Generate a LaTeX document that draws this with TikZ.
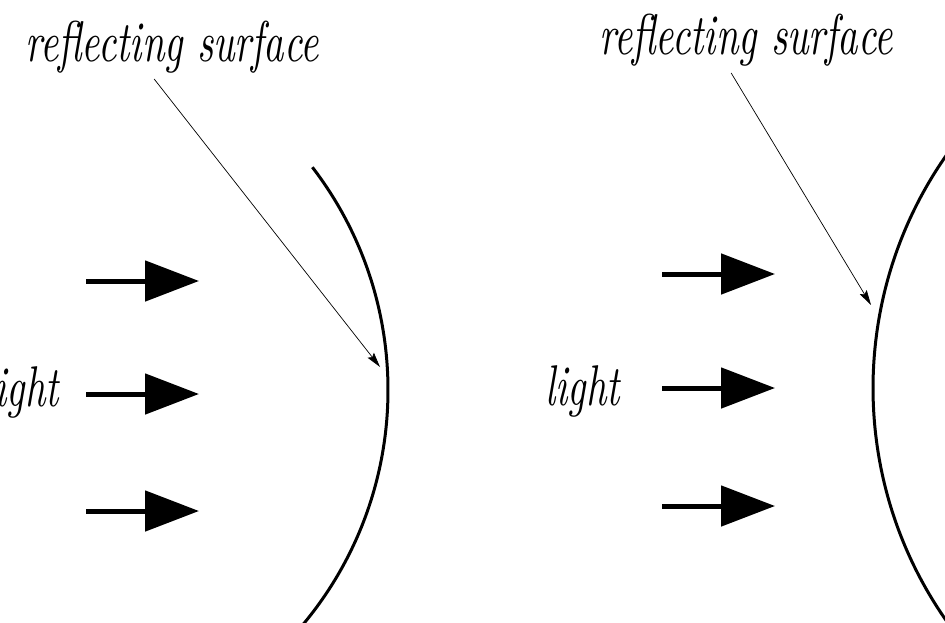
\documentclass[tikz,border=0pt]{standalone}
\usepackage{graphicx}
\usetikzlibrary{arrows.meta}

% tall, narrow italic of the labels (10pt design, stretched)
\newcommand{\narrowit}[1]{\scalebox{2.27}[3.27]{\fontsize{10}{12}\selectfont\itshape #1}}

\begin{document}
\begin{tikzpicture}[x=0.02cm, y=-0.02cm,
  lbl/.style={inner sep=0pt},
  ray/.style={line width=0.1cm, -{Triangle[length=1.08cm, width=0.8cm]}},
  pointer/.style={line width=0.4pt, -{Stealth[length=0.3cm, width=0.16cm, inset=0.05cm]}},
  mirror/.style={line width=0.06cm}]

\useasboundingbox (0,0) rectangle (945,622);
\clip (0,0) rectangle (945,622);

% ---- left panel: concave surface, centre (22,390) ----
\node[lbl, anchor=base west] (surfL) at (25,61) {\narrowit{reflecting surface}};
\node[lbl, anchor=base east] (lightL) at (59,406) {\narrowit{light}};
\draw[mirror] (22,390) ++(-37.5:366) arc[start angle=-37.5, end angle=42, radius=366];
\coordinate (hitL) at (380,367);
\draw[pointer] ([shift={(-18,18)}]surfL.base) -- (hitL);
\foreach \y [count=\i] in {281,394,511} {
  \coordinate (rayL\i a) at (86,\y);
  \coordinate (rayL\i b) at (199,\y);
  \draw[ray] (rayL\i a) -- (rayL\i b);
}

% ---- right panel: convex surface, centre (1279,388) ----
\node[lbl, anchor=base west] (surfR) at (599,54) {\narrowit{reflecting surface}};
\node[lbl, anchor=base west] (lightR) at (545,405) {\narrowit{light}};
\draw[mirror] (1279,388) ++(220:406) arc[start angle=220, end angle=140, radius=406];
\coordinate (hitR) at (871,305);
\draw[pointer] ([shift={(-15,19)}]surfR.base) -- (hitR);
\foreach \y [count=\i] in {274,388,506} {
  \coordinate (rayR\i a) at (662,\y);
  \coordinate (rayR\i b) at (775,\y);
  \draw[ray] (rayR\i a) -- (rayR\i b);
}

\end{tikzpicture}
\end{document}
